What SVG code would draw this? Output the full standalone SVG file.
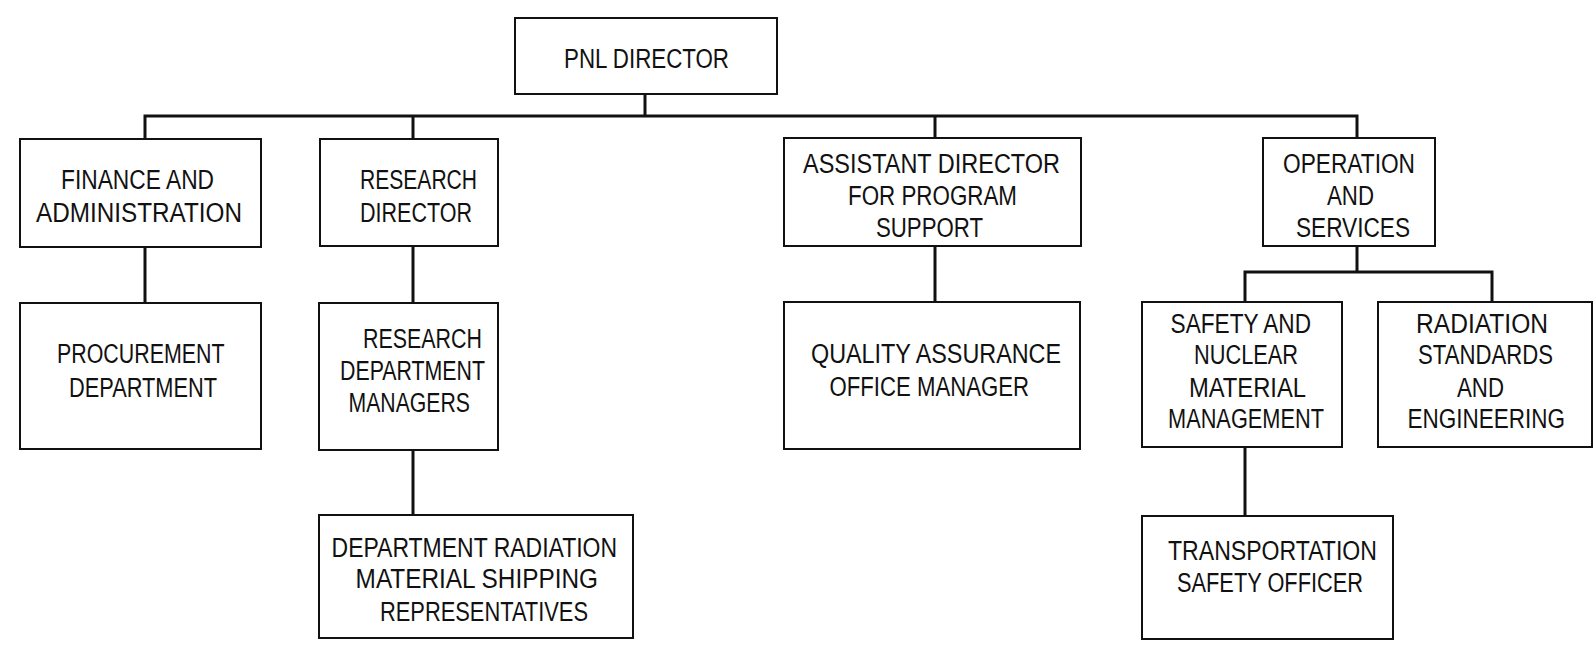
<svg xmlns="http://www.w3.org/2000/svg" width="1596" height="647" viewBox="0 0 1596 647">
<style>
.box{fill:#fff;stroke:#111;stroke-width:2}
.con{fill:none;stroke:#111;stroke-width:3;stroke-linecap:square}
text{font-family:"Liberation Sans",Arial,sans-serif;font-size:27px;fill:#111}
</style>
<rect width="1596" height="647" fill="#fff"/>
<g id="connectors">
<path class="con" d="M645,94V116M145,116H1357M145,116V139M413,116V139M935,116V138M1357,116V138"/>
<path class="con" d="M145,247V303M413,246V303M413,450V515M935,246V302"/>
<path class="con" d="M1357,246V272M1245,272H1492M1245,272V302M1492,272V302M1245,447V516"/>
</g>
<g id="pnl-director">
<rect class="box" x="515" y="18" width="262" height="76"/>
<text x="564" y="67.7" textLength="165" lengthAdjust="spacingAndGlyphs">PNL DIRECTOR</text>
</g>
<g id="finance">
<rect class="box" x="20" y="139" width="241" height="108"/>
<text x="61" y="189.3" textLength="153" lengthAdjust="spacingAndGlyphs">FINANCE AND</text>
<text x="36" y="221.7" textLength="206" lengthAdjust="spacingAndGlyphs">ADMINISTRATION</text>
</g>
<g id="research-director">
<rect class="box" x="320" y="139" width="178" height="107"/>
<text x="360" y="189.3" textLength="117" lengthAdjust="spacingAndGlyphs">RESEARCH</text>
<text x="360" y="221.7" textLength="112" lengthAdjust="spacingAndGlyphs">DIRECTOR</text>
</g>
<g id="assistant-director">
<rect class="box" x="784" y="138" width="297" height="108"/>
<text x="803" y="172.7" textLength="257" lengthAdjust="spacingAndGlyphs">ASSISTANT DIRECTOR</text>
<text x="848" y="205" textLength="169" lengthAdjust="spacingAndGlyphs">FOR PROGRAM</text>
<text x="876" y="237.3" textLength="107" lengthAdjust="spacingAndGlyphs">SUPPORT</text>
</g>
<g id="operation-services">
<rect class="box" x="1263" y="138" width="172" height="108"/>
<text x="1283" y="172.7" textLength="132" lengthAdjust="spacingAndGlyphs">OPERATION</text>
<text x="1327" y="205" textLength="47" lengthAdjust="spacingAndGlyphs">AND</text>
<text x="1296" y="237.3" textLength="114" lengthAdjust="spacingAndGlyphs">SERVICES</text>
</g>
<g id="procurement">
<rect class="box" x="20" y="303" width="241" height="146"/>
<text x="57" y="363.3" textLength="167.5" lengthAdjust="spacingAndGlyphs">PROCUREMENT</text>
<text x="69" y="396.7" textLength="148" lengthAdjust="spacingAndGlyphs">DEPARTMENT</text>
</g>
<g id="research-dept-managers">
<rect class="box" x="319" y="303" width="179" height="147"/>
<text x="363" y="348.3" textLength="119" lengthAdjust="spacingAndGlyphs">RESEARCH</text>
<text x="340" y="380" textLength="145" lengthAdjust="spacingAndGlyphs">DEPARTMENT</text>
<text x="348.5" y="411.7" textLength="121.5" lengthAdjust="spacingAndGlyphs">MANAGERS</text>
</g>
<g id="quality-assurance">
<rect class="box" x="784" y="302" width="296" height="147"/>
<text x="811" y="363.3" textLength="250" lengthAdjust="spacingAndGlyphs">QUALITY ASSURANCE</text>
<text x="829.5" y="396" textLength="199.5" lengthAdjust="spacingAndGlyphs">OFFICE MANAGER</text>
</g>
<g id="safety-nuclear">
<rect class="box" x="1142" y="302" width="200" height="145"/>
<text x="1170.6" y="332.7" textLength="140.4" lengthAdjust="spacingAndGlyphs">SAFETY AND</text>
<text x="1194" y="364.3" textLength="104" lengthAdjust="spacingAndGlyphs">NUCLEAR</text>
<text x="1189" y="396.7" textLength="117" lengthAdjust="spacingAndGlyphs">MATERIAL</text>
<text x="1168" y="428.3" textLength="156" lengthAdjust="spacingAndGlyphs">MANAGEMENT</text>
</g>
<g id="radiation-standards">
<rect class="box" x="1378" y="302" width="214" height="145"/>
<text x="1416" y="332.7" textLength="132" lengthAdjust="spacingAndGlyphs">RADIATION</text>
<text x="1418" y="364.3" textLength="135" lengthAdjust="spacingAndGlyphs">STANDARDS</text>
<text x="1457" y="396.7" textLength="47" lengthAdjust="spacingAndGlyphs">AND</text>
<text x="1407.6" y="428.3" textLength="157.4" lengthAdjust="spacingAndGlyphs">ENGINEERING</text>
</g>
<g id="dept-radiation-reps">
<rect class="box" x="319" y="515" width="314" height="123"/>
<text x="331.6" y="556.7" textLength="285.4" lengthAdjust="spacingAndGlyphs">DEPARTMENT RADIATION</text>
<text x="355.6" y="588.3" textLength="242.4" lengthAdjust="spacingAndGlyphs">MATERIAL SHIPPING</text>
<text x="380" y="620.7" textLength="208" lengthAdjust="spacingAndGlyphs">REPRESENTATIVES</text>
</g>
<g id="transportation-safety">
<rect class="box" x="1142" y="516" width="251" height="123"/>
<text x="1168" y="560" textLength="209" lengthAdjust="spacingAndGlyphs">TRANSPORTATION</text>
<text x="1177" y="591.7" textLength="186" lengthAdjust="spacingAndGlyphs">SAFETY OFFICER</text>
</g>
</svg>
